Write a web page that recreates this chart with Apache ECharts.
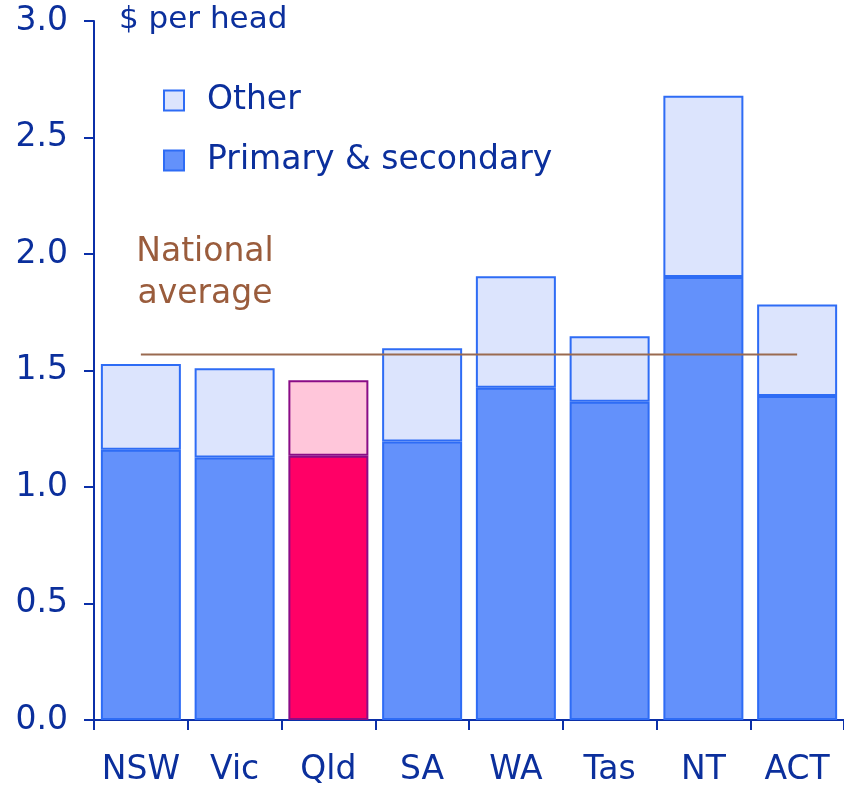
<!DOCTYPE html>
<html>
<head>
<meta charset="utf-8">
<script src="https://cdn.jsdelivr.net/npm/echarts@6/dist/echarts.min.js"></script>
<style>
html,body{margin:0;padding:0;background:#fff;}
#c{width:844px;height:787px;}
</style>
</head>
<body>
<div id="c"></div>
<script>
const categories = ['NSW', 'Vic', 'Qld', 'SA', 'WA', 'Tas', 'NT', 'ACT'];
const primarySecondary = [1.16, 1.127, 1.134, 1.195, 1.426, 1.366, 1.901, 1.391];
const totals = [1.528, 1.510, 1.458, 1.595, 1.904, 1.647, 2.679, 1.783];
const other = totals.map((t, i) => +(t - primarySecondary[i]).toFixed(3));
const nationalAverage = [1.569, 1.569, 1.569, 1.569, 1.569, 1.569, 1.569, 1.569];
const yTicks = ['0.0', '0.5', '1.0', '1.5', '2.0', '2.5', '3.0'];

const textBlue = '#0B2F9C';
const font = 'DejaVu Sans';
const highlightIndex = 2;

function styled(values, hi) {
  return values.map((v, i) => i === highlightIndex ? { value: v, itemStyle: hi } : v);
}

const chart = echarts.init(document.getElementById('c'));
chart.setOption({
  animation: false,
  grid: { left: 94, top: 21, width: 752, height: 702, containLabel: false },
  legend: {
    orient: 'vertical',
    left: 158,
    top: 79,
    icon: 'rect',
    itemWidth: 20,
    itemHeight: 20,
    itemGap: 27,
    data: ['Other', 'Primary & secondary'],
    textStyle: { color: textBlue, fontFamily: font, fontSize: 33, padding: [0, 0, 0, 18] },
    selectedMode: false
  },
  graphic: [
    { type: 'text', left: 119, top: 4, style: { text: '$ per head', fontFamily: font, fontSize: 31, fill: textBlue } },
    { type: 'text', x: 205, y: 231, style: { text: 'National\naverage', fontFamily: font, fontSize: 33, fill: '#9A5C3C', textAlign: 'center', lineHeight: 42 } }
  ],
  xAxis: {
    type: 'category',
    data: categories,
    axisLine: { lineStyle: { color: '#0B2FA8', width: 2 } },
    axisTick: { show: true, length: 10, lineStyle: { color: '#0B2FA8', width: 2 } },
    axisLabel: { color: textBlue, fontFamily: font, fontSize: 33, margin: 34, interval: 0 }
  },
  yAxis: {
    type: 'value',
    min: 0,
    max: 3,
    interval: 0.5,
    splitLine: { show: false },
    axisLine: { show: true, lineStyle: { color: '#0B2FA8', width: 2 } },
    axisTick: { show: true, length: 10, lineStyle: { color: '#0B2FA8', width: 2 } },
    axisLabel: {
      color: textBlue, fontFamily: font, fontSize: 33, margin: 26,
      formatter: (v) => yTicks[Math.round(v / 0.5)]
    }
  },
  series: [
    {
      name: 'Primary & secondary',
      type: 'bar',
      stack: 'a',
      barWidth: 80,
      itemStyle: { color: '#6391FB', borderColor: '#2E6CF5', borderWidth: 2 },
      data: styled(primarySecondary, { color: '#FF0066', borderColor: '#8A0C86', borderWidth: 2 })
    },
    {
      name: 'Other',
      type: 'bar',
      stack: 'a',
      barWidth: 80,
      itemStyle: { color: '#DCE4FD', borderColor: '#2E6CF5', borderWidth: 2 },
      data: styled(other, { color: '#FFC6DA', borderColor: '#8A0C86', borderWidth: 2 })
    },
    {
      name: 'National average',
      type: 'line',
      data: nationalAverage,
      symbol: 'none',
      lineStyle: { color: '#9A6A50', width: 2 },
      z: 5
    }
  ]
});
</script>
</body>
</html>
